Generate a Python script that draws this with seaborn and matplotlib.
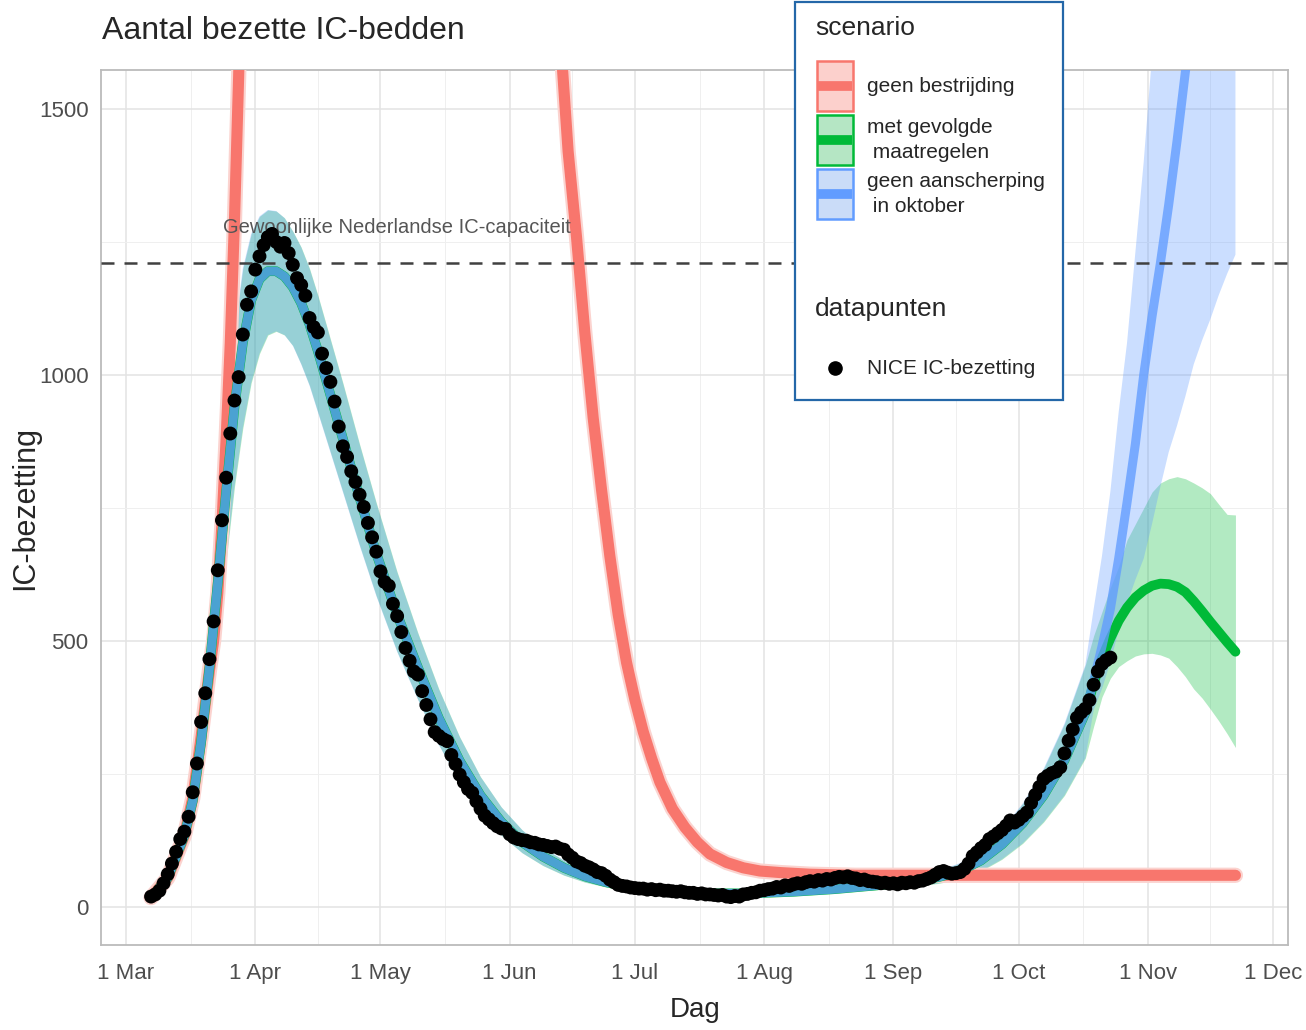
import matplotlib
matplotlib.use("Agg")
import matplotlib.pyplot as plt
import matplotlib.patheffects as pe
from matplotlib.patches import Rectangle
from matplotlib.lines import Line2D
from matplotlib import font_manager
import seaborn as sns
import pandas as pd

# ---- data ----
START = pd.Timestamp("2020-03-01")  # day 0 for the model arrays

# NICE IC-bezetting, one value per day from 7 Mar to 23 Oct
nice_start = "2020-03-07"
nice_values = [
    20, 24, 31, 45, 62, 82, 104, 128, 142,
    170, 216, 270, 348, 402, 466, 537, 633, 727, 807, 890, 952, 996, 1076, 1132, 1157,
    1198, 1223, 1244, 1259, 1265, 1250, 1241, 1248, 1229, 1207, 1182, 1169, 1149, 1107, 1090, 1080,
    1040, 1013, 987, 950, 903, 866, 846, 819, 799, 775, 752, 722, 695, 668, 631, 611, 604, 570,
    547, 517, 487, 463, 443, 437, 406, 380, 353, 329, 322, 316, 312, 286, 269, 249, 235, 222,
    215, 199, 185, 172, 165, 158, 152, 148, 147, 137, 131, 128, 126, 125, 122, 121, 118, 117, 115,
    113, 114, 110, 108, 99, 93, 86, 83, 78, 75, 71, 66, 64, 59, 52, 47, 42, 40, 39, 37, 36, 35,
    35, 33, 34, 32, 33, 31, 31, 30, 29, 30, 28, 27, 27, 25, 26, 24, 24, 23, 22, 23, 20, 19, 21,
    20, 24, 25, 27, 28, 31, 32, 34, 35, 38, 37, 41, 40, 43, 45, 44, 47, 49, 48, 51, 50, 53, 52,
    55, 57, 56, 58, 55, 54, 51, 52, 49, 48, 47, 45, 46, 44, 45, 43, 46, 45, 47, 46, 49, 50, 53,
    56, 61, 66, 68, 65, 63, 64, 66, 72, 82, 96, 103, 111, 117, 128, 133, 139, 145, 153, 163, 159,
    164, 171, 178, 196, 211, 226, 241, 247, 252, 255, 263, 289, 313, 334, 356, 366, 373, 389, 418,
    443, 457, 464, 469,
]

# model fit shared by both scenarios until the split (days since 1 Mar)
fit_days = [6, 10, 14, 16, 18, 20, 22, 24, 26, 28, 30, 32, 34, 36, 38, 40, 42, 44, 46, 48, 50,
            52, 56, 60, 65, 70, 75, 80, 85, 90, 95, 100, 105, 110, 115, 120, 130, 140, 150, 160,
            170, 180, 190, 195, 200, 205, 210, 215, 220, 225, 230]
fit_mid = [18, 55, 135, 200, 310, 450, 610, 780, 940, 1060, 1140, 1180, 1195, 1195, 1185, 1165,
           1135, 1095, 1045, 990, 935, 880, 770, 665, 550, 450, 355, 275, 210, 160, 122, 95, 74,
           58, 47, 39, 30, 26, 26, 29, 34, 41, 50, 57, 68, 88, 118, 158, 210, 276, 365]
fit_lo = [12, 42, 110, 165, 255, 370, 505, 650, 790, 900, 985, 1040, 1075, 1082, 1075, 1055,
          1020, 980, 930, 880, 830, 780, 680, 585, 480, 390, 305, 235, 178, 135, 102, 78, 60, 47,
          38, 32, 25, 22, 22, 24, 28, 33, 40, 45, 53, 68, 90, 120, 160, 210, 280]
fit_hi = [25, 68, 160, 240, 365, 525, 710, 905, 1080, 1200, 1265, 1298, 1310, 1308, 1295, 1270,
          1240, 1200, 1150, 1095, 1040, 985, 870, 760, 630, 515, 410, 320, 245, 188, 145, 112, 88,
          70, 56, 47, 36, 31, 31, 34, 40, 48, 60, 69, 83, 108, 145, 195, 260, 345, 455]

# projections after the split
proj_days = [232, 234, 236, 238, 240, 242, 244, 246, 248, 250, 252, 254, 256, 258, 260, 262, 264, 266]
green_mid = [420, 468, 505, 538, 563, 582, 595, 604, 608, 607, 602, 592, 575, 556, 536, 517, 498, 480]
green_lo = [340, 395, 430, 452, 463, 472, 476, 477, 474, 468, 452, 433, 410, 393, 372, 350, 326, 300]
green_hi = [510, 555, 600, 640, 690, 720, 750, 780, 797, 805, 809, 805, 797, 788, 777, 757, 738, 737]
blue_mid = [425, 490, 560, 655, 760, 870, 1000, 1110, 1210, 1320, 1440, 1570, 1700, 1850, 2000,
            2170, 2340, 2520]
blue_lo = [370, 410, 460, 520, 570, 615, 655, 720, 790, 855, 905, 960, 1020, 1065, 1105, 1150,
           1190, 1226]
blue_hi = [560, 660, 780, 930, 1060, 1230, 1400, 1600, 1800, 2000, 2250, 2500, 2750, 3000, 3300,
           3600, 3900, 4200]

# "geen bestrijding"
red_days = [6, 10, 14, 16, 18, 20, 21, 22, 23, 24, 25, 26, 27, 28, 32, 60, 95, 100, 104, 106, 108,
            110, 112, 114, 116, 118, 120, 122, 124, 126, 128, 131, 134, 137, 140, 144, 148, 152,
            157, 164, 175, 200, 230, 266]
red_mid = [18, 55, 135, 205, 320, 445, 500, 590, 720, 880, 1060, 1290, 1560, 1900, 4000, 30000,
           5000, 2500, 1650, 1420, 1260, 1080, 920, 785, 660, 550, 460, 390, 330, 280, 235, 185,
           150, 122, 100, 84, 74, 68, 65, 62, 60, 60, 60, 60]

capacity = 1210
capacity_label = "Gewoonlijke Nederlandse IC-capaciteit"
scenarios = ["geen bestrijding", "met gevolgde\n maatregelen", "geen aanscherping\n in oktober"]
colors = ["#F8766D", "#00BA38", "#619CFF"]
key_fills = ["#FCD0CC", "#B5E6C4", "#CADCF8"]
month_ticks = ["2020-03-01", "2020-04-01", "2020-05-01", "2020-06-01", "2020-07-01",
               "2020-08-01", "2020-09-01", "2020-10-01", "2020-11-01", "2020-12-01"]
month_labels = ["1 Mar", "1 Apr", "1 May", "1 Jun", "1 Jul", "1 Aug", "1 Sep", "1 Oct",
                "1 Nov", "1 Dec"]
y_ticks = [0, 500, 1000, 1500]


def to_dates(days):
    return START + pd.to_timedelta(days, unit="D")


nice = pd.DataFrame({"date": pd.date_range(nice_start, periods=len(nice_values), freq="D"),
                     "bezetting": nice_values})
fit = pd.DataFrame({"date": to_dates(fit_days), "mid": fit_mid, "lo": fit_lo, "hi": fit_hi})
green = pd.concat([fit, pd.DataFrame({"date": to_dates(proj_days), "mid": green_mid,
                                      "lo": green_lo, "hi": green_hi})], ignore_index=True)
blue = pd.concat([fit, pd.DataFrame({"date": to_dates(proj_days), "mid": blue_mid,
                                     "lo": blue_lo, "hi": blue_hi})], ignore_index=True)
red = pd.DataFrame({"date": to_dates(red_days), "mid": red_mid})

# ---- style ----
sns.set_style("white")
names = {f.name for f in font_manager.fontManager.ttflist}
narrow = "Liberation Sans Narrow" if "Liberation Sans Narrow" in names else "Liberation Sans"
plt.rcParams["font.family"] = [narrow, "DejaVu Sans"]

W, H = 1306, 1030
fig = plt.figure(figsize=(W / 100, H / 100), dpi=100)
ax = fig.add_axes([101 / W, 1 - 945 / H, 1187 / W, 875 / H])

# ribbons
ax.fill_between(green["date"], green["lo"], green["hi"], color=colors[1], alpha=0.3, lw=0, zorder=2)
ax.fill_between(blue["date"], blue["lo"], blue["hi"], color=colors[2], alpha=0.33, lw=0, zorder=2)

# lines
sns.lineplot(data=red, x="date", y="mid", color=colors[0], linewidth=8, ax=ax, zorder=3,
             path_effects=[pe.Stroke(linewidth=11, foreground="#FBD3CF"), pe.Normal()])
sns.lineplot(data=green, x="date", y="mid", color=colors[1], linewidth=7, ax=ax, zorder=3)
sns.lineplot(data=blue, x="date", y="mid", color=colors[2], linewidth=6.5, alpha=0.78, ax=ax, zorder=3)

ax.axhline(capacity, color="#404040", lw=1.8, ls=(0, (5.2, 4)), zorder=3)
ax.text(pd.Timestamp("2020-05-05"), 1278, capacity_label, ha="center", va="center",
        color="#555555", fontsize=14.5, zorder=4)

sns.scatterplot(data=nice, x="date", y="bezetting", color="black", s=100, edgecolor="none",
                ax=ax, zorder=5)

# axes
ax.set_xlim(START - pd.Timedelta(days=6), START + pd.Timedelta(days=278.6))
ax.set_ylim(-71, 1573)
ticks = pd.to_datetime(month_ticks)
ax.set_xticks(ticks)
ax.set_xticklabels(month_labels)
ax.set_xticks([a + (b - a) / 2 for a, b in zip(ticks[:-1], ticks[1:])], minor=True)
ax.set_yticks(y_ticks)
ax.set_yticks([250, 750, 1250], minor=True)
ax.grid(True, which="major", color="#E3E3E3", lw=1.1)
ax.grid(True, which="minor", color="#EFEFEF", lw=0.7)
ax.set_axisbelow(True)
for s in ax.spines.values():
    s.set_color("#BBBBBB")
    s.set_linewidth(1.3)
ax.tick_params(which="major", length=4, color="#AAAAAA", labelsize=16, labelcolor="#4D4D4D")
ax.tick_params(axis="x", pad=9)
ax.tick_params(axis="y", pad=5)
ax.tick_params(which="minor", length=0)
ax.set_xlabel("")
ax.set_ylabel("")

fig.text(102 / W, 1 - 31 / H, "Aantal bezette IC-bedden", ha="left", va="center", fontsize=23)
fig.text(695 / W, 1 - 1010 / H, "Dag", ha="center", va="center", fontsize=20)
fig.text(25 / W, 1 - 508 / H, "IC-bezetting", ha="center", va="center", rotation=90,
         fontsize=22, family=["Liberation Sans", "DejaVu Sans"])


# ---- legend box (two guides, laid out like ggplot) ----
def fx(px):
    return px / W


def fy(py):
    return 1 - py / H


fig.add_artist(Rectangle((fx(795), fy(400)), 268 / W, 398 / H, transform=fig.transFigure,
                         facecolor="white", edgecolor="#2467A8", lw=1.6, zorder=3))
fig.text(fx(815), fy(28), "scenario", ha="left", va="center", fontsize=19, zorder=6)
fig.text(fx(815), fy(309), "datapunten", ha="left", va="center", fontsize=19, zorder=6)

key_top = 61
for label, fill, col in zip(scenarios, key_fills, colors):
    fig.add_artist(Rectangle((fx(817), fy(key_top + 50)), 36 / W, 50 / H,
                             transform=fig.transFigure, facecolor=fill, edgecolor=col,
                             lw=1.8, zorder=6))
    fig.add_artist(Line2D([fx(818), fx(852)], [fy(key_top + 25)] * 2, color=col, lw=7,
                          solid_capstyle="butt", transform=fig.transFigure, zorder=7))
    fig.text(fx(867), fy(key_top + 25), label, ha="left", va="center", fontsize=15,
             linespacing=1.35, zorder=7)
    key_top += 54

fig.add_artist(Line2D([fx(835)], [fy(368)], marker="o", color="black", ls="", markersize=9.5,
                      transform=fig.transFigure, zorder=7))
fig.text(fx(867), fy(368), "NICE IC-bezetting", ha="left", va="center", fontsize=15, zorder=7)

fig.savefig("out.png", dpi=100)
